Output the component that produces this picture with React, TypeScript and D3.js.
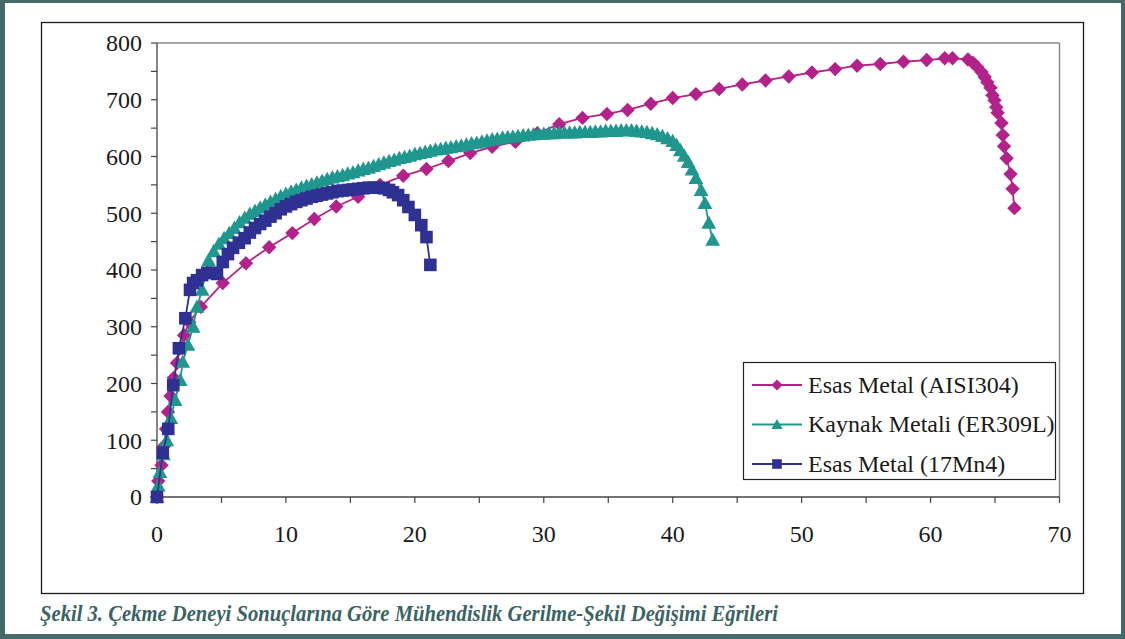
import React from "react";
import * as d3 from "d3";

// ---- Data (engineering strain %, engineering stress MPa) ----
const aisiStrain = [0, 0.1, 0.35, 0.55, 0.7, 0.85, 1.05, 1.3, 1.55, 1.8, 2.1, 2.5, 3.4, 5.1, 6.9, 8.7, 10.5, 12.2, 13.9, 15.6, 17.3, 19.1, 20.9, 22.6, 24.3, 26.0, 27.8, 29.5, 31.2, 33.0, 34.9, 36.5, 38.3, 40.0, 41.8, 43.6, 45.4, 47.2, 49.0, 50.8, 52.6, 54.3, 56.1, 57.9, 59.7, 61.1, 61.7, 62.9, 63.3, 63.6, 63.95, 64.2, 64.4, 64.65, 64.8, 64.96, 65.1, 65.2, 65.5, 65.6, 65.7, 65.9, 66.2, 66.36, 66.5];
const aisiStress = [0, 28, 56, 90, 120, 150, 178, 210, 236, 262, 285, 308, 335, 377, 412, 440, 465, 490, 512, 529, 550, 566, 578, 592, 606, 617, 626, 641, 657, 668, 675, 682, 693, 703, 710, 719, 727, 734, 741, 748, 754, 760, 763, 767, 770, 773, 773, 771, 765, 758, 749, 740, 731, 721, 708, 699, 687, 677, 659, 638, 618, 597, 569, 543, 509];

const er309Strain = [0, 0.1, 0.23, 0.5, 0.76, 1.07, 1.4, 1.8, 2.0, 2.4, 2.8, 3.1, 3.5, 4.0, 4.4, 4.8, 5.2, 5.6, 6.0, 6.4, 6.8, 7.2, 7.6, 8.0, 8.4, 8.8, 9.2, 9.6, 10.0, 10.4, 10.8, 11.2, 11.6, 12.0, 12.4, 12.8, 13.2, 13.6, 14.0, 14.4, 14.8, 15.2, 15.6, 16.0, 16.4, 16.8, 17.2, 17.6, 18.0, 18.4, 18.8, 19.2, 19.6, 20.0, 20.4, 20.8, 21.2, 21.6, 22.0, 22.4, 22.8, 23.2, 23.6, 24.0, 24.4, 24.8, 25.2, 25.6, 26.0, 26.4, 26.8, 27.2, 27.6, 28.0, 28.4, 28.8, 29.2, 29.6, 30.0, 30.4, 30.8, 31.2, 31.6, 32.0, 32.4, 32.8, 33.2, 33.6, 34.0, 34.4, 34.8, 35.2, 35.6, 36.0, 36.4, 36.8, 37.2, 37.6, 38.0, 38.4, 38.8, 39.2, 39.6, 40.0, 40.3, 40.6, 40.9, 41.2, 41.5, 41.8, 42.2, 42.5, 42.8, 43.1];
const er309Stress = [0, 20, 44, 75, 100, 139, 171, 206, 238, 268, 300, 335, 365, 417, 433, 446, 456, 465, 474, 484, 492, 499, 504, 510, 515, 520, 525, 530, 534, 538, 541, 545, 548, 551, 554, 557, 560, 563, 565, 567, 570, 572, 575, 578, 580, 583, 586, 589, 592, 594, 597, 599, 601, 604, 606, 608, 610, 612, 613, 615, 616, 618, 619, 621, 623, 624, 626, 628, 630, 631, 633, 634, 635, 636, 637, 638, 639, 640, 640, 641, 641, 642, 642, 642, 642, 643, 643, 643, 644, 644, 645, 645, 645, 646, 646, 646, 645, 644, 643, 641, 639, 636, 632, 627, 620, 611, 601, 590, 577, 562, 541, 518, 483, 453];

const mn4Strain = [0, 0.45, 0.87, 1.26, 1.7, 2.2, 2.56, 2.8, 3.1, 3.5, 3.9, 4.3, 4.65, 5.1, 5.5, 5.9, 6.35, 6.8, 7.2, 7.6, 8.0, 8.4, 8.8, 9.2, 9.6, 10.0, 10.4, 10.8, 11.2, 11.6, 12.0, 12.4, 12.8, 13.2, 13.6, 14.0, 14.4, 14.8, 15.2, 15.6, 16.0, 16.4, 16.8, 17.2, 17.6, 18.0, 18.3, 18.7, 19.1, 19.5, 20.0, 20.5, 20.9, 21.2];
const mn4Stress = [0, 78, 120, 197, 262, 315, 365, 377, 382, 391, 395, 395, 393, 414, 428, 439, 448, 456, 466, 474, 481, 487, 494, 500, 507, 512, 516, 520, 523, 526, 529, 531, 533, 535, 537, 539, 540, 541, 542, 543, 544, 545, 545, 545, 544, 541, 537, 532, 523, 511, 497, 479, 458, 409];

const seriesNames = ["Esas Metal (AISI304)", "Kaynak Metali (ER309L)", "Esas Metal (17Mn4)"];
const seriesColors = ["#b3228b", "#1f978e", "#2e3192"];
const xTickLabels = [0, 10, 20, 30, 40, 50, 60, 70];
const yTickLabels = [0, 100, 200, 300, 400, 500, 600, 700, 800];
const caption = "Şekil 3. Çekme Deneyi Sonuçlarına Göre Mühendislik Gerilme-Şekil Değişimi Eğrileri";

const W = 1125;
const H = 639;
const plot = { left: 157, right: 1059.5, top: 43, bottom: 497 };
const serif = "'Liberation Serif', 'Times New Roman', serif";

type Shape = "diamond" | "triangle" | "square";
const shapes: Shape[] = ["diamond", "triangle", "square"];

function markerPath(shape: Shape, r: number) {
  if (shape === "diamond") return `M0,${-r}L${r},0L0,${r}L${-r},0Z`;
  if (shape === "triangle") return `M0,${-r}L${r},${r * 0.8}L${-r},${r * 0.8}Z`;
  return `M${-r},${-r}L${r},${-r}L${r},${r}L${-r},${r}Z`;
}

export default function App() {
  const x = d3.scaleLinear().domain([0, 70]).range([plot.left, plot.right]);
  const y = d3.scaleLinear().domain([0, 800]).range([plot.bottom, plot.top]);
  const line = d3
    .line<[number, number]>()
    .x((d) => x(d[0]))
    .y((d) => y(d[1]));

  const series = [
    { pts: aisiStrain.map((s, i) => [s, aisiStress[i]] as [number, number]), r: 7.2 },
    { pts: er309Strain.map((s, i) => [s, er309Stress[i]] as [number, number]), r: 7.4 },
    { pts: mn4Strain.map((s, i) => [s, mn4Stress[i]] as [number, number]), r: 6.3 },
  ];

  const xMinor = d3.range(0, 70.01, 5);
  const yMinor = d3.range(0, 800.01, 50);

  return (
    <svg
      width={W}
      height={H}
      style={{ position: "absolute", left: 0, top: 0, display: "block" }}
    >
      <rect x={0} y={0} width={W} height={H} fill="#46696a" />
      <rect x={5} y={3} width={W - 9} height={H - 8} fill="#ffffff" />
      <rect x={41.5} y={22.5} width={1042} height={571} fill="#fff" stroke="#1a1a1a" strokeWidth={1.3} />

      {/* plot frame */}
      <line x1={plot.left} x2={plot.right} y1={plot.top} y2={plot.top} stroke="#8a8a8a" strokeWidth={1.5} />
      <line x1={plot.right} x2={plot.right} y1={plot.top} y2={plot.bottom} stroke="#8a8a8a" strokeWidth={1.5} />

      {/* axes */}
      <line x1={plot.left} x2={plot.left} y1={plot.top} y2={plot.bottom} stroke="#444" strokeWidth={1.3} />
      <line x1={plot.left} x2={plot.right} y1={plot.bottom} y2={plot.bottom} stroke="#444" strokeWidth={1.3} />
      {yMinor.map((v) => (
        <line key={"yt" + v} x1={plot.left - 6} x2={plot.left} y1={y(v)} y2={y(v)} stroke="#444" strokeWidth={1.2} />
      ))}
      {xMinor.map((v) => (
        <line key={"xt" + v} x1={x(v)} x2={x(v)} y1={plot.bottom} y2={plot.bottom + 6} stroke="#444" strokeWidth={1.2} />
      ))}
      {yTickLabels.map((v) => (
        <text
          key={"yl" + v}
          x={142}
          y={y(v)}
          dy="0.35em"
          textAnchor="end"
          fontFamily={serif}
          fontSize={24}
          fill="#1a1a1a"
        >
          {v}
        </text>
      ))}
      {xTickLabels.map((v) => (
        <text
          key={"xl" + v}
          x={x(v)}
          y={542}
          textAnchor="middle"
          fontFamily={serif}
          fontSize={24}
          fill="#1a1a1a"
        >
          {v}
        </text>
      ))}

      {/* series */}
      {series.map((s, i) => (
        <g key={"s" + i}>
          <path d={line(s.pts) || ""} fill="none" stroke={seriesColors[i]} strokeWidth={1.8} />
          {s.pts.map((p, j) => (
            <path
              key={j}
              d={markerPath(shapes[i], s.r)}
              transform={`translate(${x(p[0])},${y(p[1])})`}
              fill={seriesColors[i]}
            />
          ))}
        </g>
      ))}

      {/* legend */}
      <rect x={743.5} y={362.5} width={312} height={117} fill="#fff" stroke="#222" strokeWidth={1.2} />
      {seriesNames.map((name, i) => {
        const ly = 385 + i * 39.5;
        return (
          <g key={"lg" + i}>
            <line x1={752} x2={802} y1={ly} y2={ly} stroke={seriesColors[i]} strokeWidth={1.8} />
            <path d={markerPath(shapes[i], i === 2 ? 4.8 : 5.6)} transform={`translate(777,${ly})`} fill={seriesColors[i]} />
            <text x={808} y={ly} dy="0.33em" fontFamily={serif} fontSize={24} fill="#1a1a1a">
              {name}
            </text>
          </g>
        );
      })}

      {/* caption */}
      <text
        x={40}
        y={621}
        fontFamily={serif}
        fontSize={23}
        fontWeight="bold"
        fontStyle="italic"
        fill="#3b6364"
        textLength={738}
        lengthAdjust="spacingAndGlyphs"
      >
        {caption}
      </text>
    </svg>
  );
}
